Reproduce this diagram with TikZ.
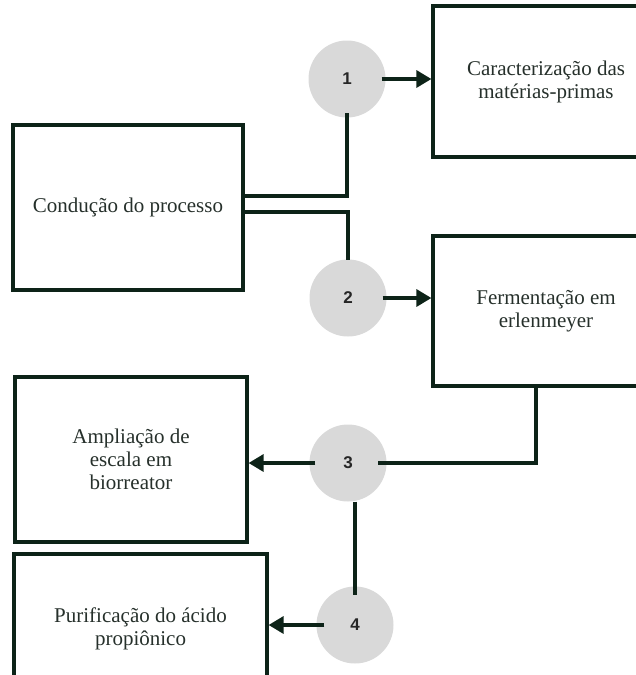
\documentclass[tikz,border=0pt]{standalone}
\usepackage{fontspec}
\setmainfont{Liberation Serif}
\newfontfamily\numfont{Liberation Sans}
\usepackage{xcolor}
\usepackage{tikz}
\usetikzlibrary{positioning,arrows.meta,calc}

\definecolor{ink}{HTML}{0D2318}
\definecolor{txt}{HTML}{26302B}
\definecolor{disc}{HTML}{D9D9D9}

\begin{document}
\begin{tikzpicture}[
  x=1pt, y=-1pt,
  >={Triangle[length=15pt, width=17pt]},
  box/.style={draw=ink, line width=3.2pt, align=center, inner sep=0pt, text=txt,
    font=\fontsize{21}{23}\selectfont},
  num/.style={circle, fill=disc, minimum size=77pt, inner sep=0pt, text=black!85,
    font=\numfont\bfseries\fontsize{17}{17}\selectfont},
  link/.style={draw=ink, line width=3.3pt}
]
  \useasboundingbox (0,0) rectangle (635,675);

  % Stages
  \node[box, minimum width=226pt, minimum height=151pt] (car) at (546,81.5)
    {Caracterização das\\matérias-primas};
  \node[box, minimum width=230pt, minimum height=165pt] (cond) at (128,207.5)
    {Condução do processo};
  \node[box, minimum width=226pt, minimum height=150pt] (ferm) at (546,311)
    {Fermentação em\\erlenmeyer};
  \node[box, minimum width=232pt, minimum height=165pt] (amp) at (131,459.5)
    {Ampliação de\\escala em\\biorreator};
  \node[box, minimum width=253pt, minimum height=150pt] (pur) at (140.5,629)
    {Purificação do ácido\\propiônico};

  % Steps
  \node[num] (s1) at (347,79)  {1};
  \node[num] (s2) at (348,298) {2};
  \node[num] (s3) at (348,463) {3};
  \node[num] (s4) at (355,625) {4};

  % Arrows
  \draw[link, ->] ([xshift=-4pt]s1.east) -- (s1.east -| car.west);
  \draw[link] ([yshift=11.5pt]cond.east) -| ([yshift=5pt]s1.south);
  \draw[link] ([yshift=-4.5pt]cond.east) -| ([yshift=-1pt]s2.north);
  \draw[link, ->] ([xshift=-4pt]s2.east) -- (s2.east -| ferm.west);
  \draw[link] ([xshift=-10pt]ferm.south) |- ([xshift=-9pt]s3.east);
  \draw[link, ->] ([xshift=6pt]s3.west) -- (s3.west -| amp.east);
  \draw[link] (s4.north |- s3.south) -- ([yshift=-9pt]s4.north);
  \draw[link, ->] ([xshift=8pt]s4.west) -- (s4.west -| pur.east);
\end{tikzpicture}
\end{document}
